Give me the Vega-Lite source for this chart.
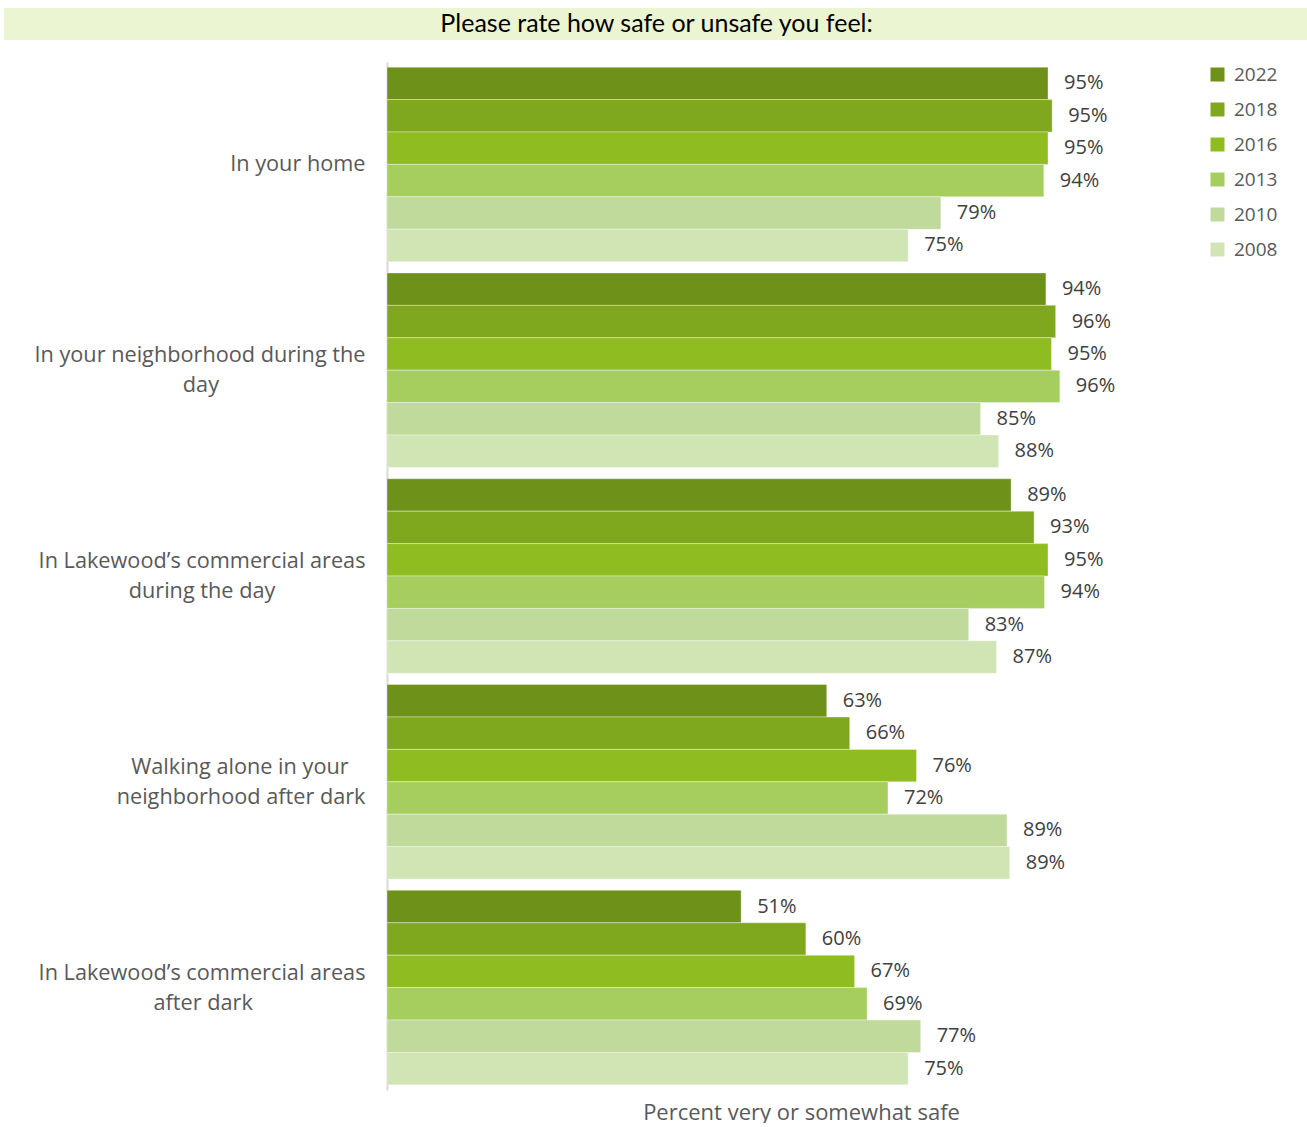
{
  "$schema": "https://vega.github.io/schema/vega-lite/v6.json",
  "padding": {"left": 4, "top": 8, "right": 0, "bottom": 0},
  "background": "white",
  "spacing": 22,
  "config": {"view": {"stroke": null}},
  "vconcat": [
    {
      "width": 920,
      "height": 32,
      "data": {"values": [{"t": "Please rate how safe or unsafe you feel:"}]},
      "layer": [
        {
          "mark": {"type": "rect", "color": "#EBF5D1"},
          "encoding": {
            "x": {"datum": -0.4163, "type": "quantitative", "scale": {"domain": [0, 1], "nice": false, "zero": false}, "axis": null},
            "x2": {"datum": 1}
          }
        },
        {
          "mark": {"type": "text", "font": "Lato", "fontSize": 25, "color": "black", "baseline": "middle", "align": "center"},
          "encoding": {
            "x": {"datum": 0.293, "type": "quantitative"},
            "text": {"field": "t", "type": "nominal"}
          }
        }
      ]
    },
    {
      "width": 828,
      "height": 1028,
      "data": {"values": [
        {"q": "In your home", "year": "2022", "value": 95.0, "label": "95%"},
        {"q": "In your home", "year": "2018", "value": 95.6, "label": "95%"},
        {"q": "In your home", "year": "2016", "value": 95.0, "label": "95%"},
        {"q": "In your home", "year": "2013", "value": 94.4, "label": "94%"},
        {"q": "In your home", "year": "2010", "value": 79.6, "label": "79%"},
        {"q": "In your home", "year": "2008", "value": 74.9, "label": "75%"},
        {"q": "In your neighborhood during the day", "year": "2022", "value": 94.7, "label": "94%"},
        {"q": "In your neighborhood during the day", "year": "2018", "value": 96.1, "label": "96%"},
        {"q": "In your neighborhood during the day", "year": "2016", "value": 95.5, "label": "95%"},
        {"q": "In your neighborhood during the day", "year": "2013", "value": 96.7, "label": "96%"},
        {"q": "In your neighborhood during the day", "year": "2010", "value": 85.3, "label": "85%"},
        {"q": "In your neighborhood during the day", "year": "2008", "value": 87.9, "label": "88%"},
        {"q": "In Lakewood’s commercial areas during the day", "year": "2022", "value": 89.7, "label": "89%"},
        {"q": "In Lakewood’s commercial areas during the day", "year": "2018", "value": 93.0, "label": "93%"},
        {"q": "In Lakewood’s commercial areas during the day", "year": "2016", "value": 95.0, "label": "95%"},
        {"q": "In Lakewood’s commercial areas during the day", "year": "2013", "value": 94.5, "label": "94%"},
        {"q": "In Lakewood’s commercial areas during the day", "year": "2010", "value": 83.6, "label": "83%"},
        {"q": "In Lakewood’s commercial areas during the day", "year": "2008", "value": 87.6, "label": "87%"},
        {"q": "Walking alone in your neighborhood after dark", "year": "2022", "value": 63.2, "label": "63%"},
        {"q": "Walking alone in your neighborhood after dark", "year": "2018", "value": 66.5, "label": "66%"},
        {"q": "Walking alone in your neighborhood after dark", "year": "2016", "value": 76.1, "label": "76%"},
        {"q": "Walking alone in your neighborhood after dark", "year": "2013", "value": 72.0, "label": "72%"},
        {"q": "Walking alone in your neighborhood after dark", "year": "2010", "value": 89.1, "label": "89%"},
        {"q": "Walking alone in your neighborhood after dark", "year": "2008", "value": 89.5, "label": "89%"},
        {"q": "In Lakewood’s commercial areas after dark", "year": "2022", "value": 50.9, "label": "51%"},
        {"q": "In Lakewood’s commercial areas after dark", "year": "2018", "value": 60.2, "label": "60%"},
        {"q": "In Lakewood’s commercial areas after dark", "year": "2016", "value": 67.2, "label": "67%"},
        {"q": "In Lakewood’s commercial areas after dark", "year": "2013", "value": 69.0, "label": "69%"},
        {"q": "In Lakewood’s commercial areas after dark", "year": "2010", "value": 76.7, "label": "77%"},
        {"q": "In Lakewood’s commercial areas after dark", "year": "2008", "value": 74.9, "label": "75%"}
      ]},
      "encoding": {
        "y": {
          "field": "q", "type": "nominal", "sort": null, "title": null,
          "scale": {"paddingInner": 0.055, "paddingOuter": 0.025},
          "axis": {
            "domainColor": "#D9D9D9", "domainWidth": 2, "ticks": false,
            "labelPadding": 22, "labelFont": "Open Sans", "labelFontSize": 21.7,
            "labelColor": "#595959", "labelLineHeight": 15, "labelLimit": 0,
            "labelOffset": -15,
            "minExtent": 383, "maxExtent": 383,
            "labelExpr": "datum.value == 'In your neighborhood during the day' ? ['In your neighborhood during the', '\u00a0\u200b', 'day\u00a0\u00a0\u00a0\u00a0\u00a0\u00a0\u00a0\u00a0\u00a0\u00a0\u00a0\u00a0\u00a0\u00a0\u00a0\u00a0\u00a0\u00a0\u00a0\u00a0\u00a0\u00a0\u00a0\u00a0\u00a0\u00a0\u200b'] : datum.value == 'In Lakewood’s commercial areas during the day' ? ['In Lakewood’s commercial areas', '\u00a0\u200b', 'during the day\u00a0\u00a0\u00a0\u00a0\u00a0\u00a0\u00a0\u00a0\u00a0\u00a0\u00a0\u00a0\u00a0\u00a0\u00a0\u00a0\u200b'] : datum.value == 'Walking alone in your neighborhood after dark' ? ['Walking alone in your\u00a0\u00a0\u00a0\u200b', '\u00a0\u200b', 'neighborhood after dark'] : datum.value == 'In Lakewood’s commercial areas after dark' ? ['In Lakewood’s commercial areas', '\u00a0\u200b', 'after dark\u00a0\u00a0\u00a0\u00a0\u00a0\u00a0\u00a0\u00a0\u00a0\u00a0\u00a0\u00a0\u00a0\u00a0\u00a0\u00a0\u00a0\u00a0\u00a0\u00a0\u200b'] : ['\u00a0\u200b', datum.value]"
          }
        },
        "yOffset": {
          "field": "year", "type": "nominal",
          "sort": ["2022", "2018", "2016", "2013", "2010", "2008"],
          "scale": {"paddingInner": 0, "paddingOuter": 0}
        },
        "x": {
          "field": "value", "type": "quantitative",
          "scale": {"domain": [0, 119], "nice": false},
          "axis": {
            "domain": false, "ticks": false, "labels": false, "grid": false,
            "title": "Percent very or somewhat safe", "titleFont": "Open Sans",
            "titleFontSize": 22, "titleFontWeight": "normal", "titleColor": "#595959",
            "titleBaseline": "alphabetic", "titlePadding": 29
          }
        }
      },
      "layer": [
        {
          "mark": {"type": "bar", "stroke": "white", "strokeWidth": 1, "strokeOpacity": 0.35},
          "encoding": {
            "color": {
              "field": "year", "type": "nominal",
              "scale": {
                "domain": ["2022", "2018", "2016", "2013", "2010", "2008"],
                "range": ["#6E9119", "#80A81E", "#8FBD21", "#A5CE5F", "#BFDA9A", "#D0E4B4"]
              },
              "legend": {
                "title": null, "orient": "none", "legendX": 821, "legendY": 57,
                "symbolType": "square", "symbolSize": 196, "symbolStrokeWidth": 0,
                "labelFont": "Open Sans", "labelFontSize": 19, "labelColor": "#595959",
                "labelOffset": 7, "rowPadding": 15, "padding": 0
              }
            }
          }
        },
        {
          "mark": {"type": "text", "align": "left", "baseline": "middle", "dx": 16, "font": "Open Sans", "fontSize": 20, "color": "#404040"},
          "encoding": {"text": {"field": "label", "type": "nominal"}}
        }
      ]
    }
  ]
}
